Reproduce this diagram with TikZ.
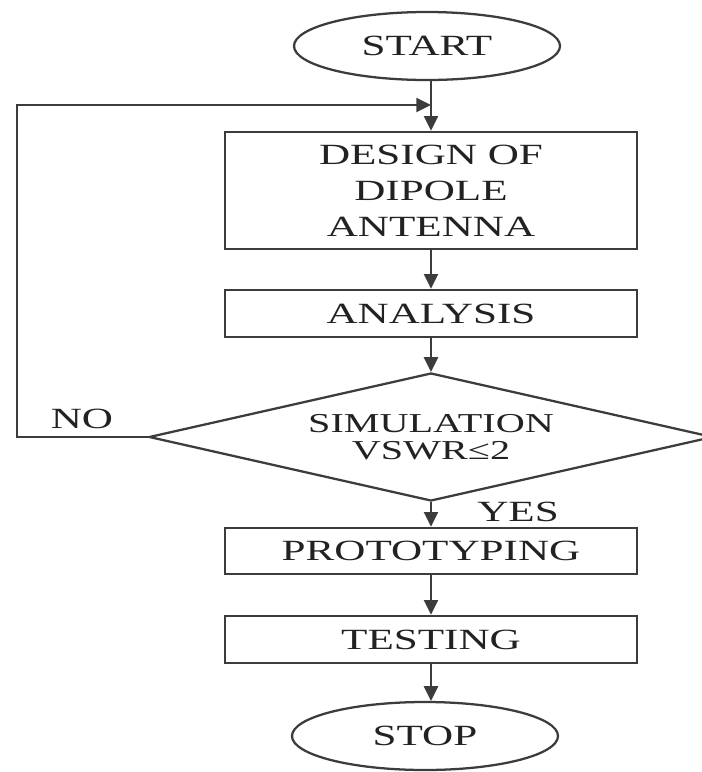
\documentclass[tikz,border=0pt]{standalone}
\usepackage{fontspec}
\setmainfont{Liberation Serif}[FakeStretch=1.47]
\usetikzlibrary{shapes.geometric,arrows.meta}
\definecolor{linecol}{HTML}{3C3C3C}
\definecolor{txtcol}{HTML}{222222}
\begin{document}
\begin{tikzpicture}[x=0.75pt,y=-0.75pt]
\tikzset{
  flowline/.style={line width=1.7pt, draw=linecol},
  arrowline/.style={flowline, -{Triangle[length=11pt,width=10.5pt]}},
  bigfont/.style={font={\fontsize{22}{27}\selectfont}, text=txtcol},
  procbox/.style={rectangle, draw=linecol, line width=1.9pt, minimum width=309pt,
    inner sep=0pt, align=center, bigfont},
  termnode/.style={ellipse, draw=linecol, line width=1.7pt, minimum width=199.5pt,
    minimum height=51pt, inner sep=0pt, bigfont},
  decnode/.style={diamond, aspect=4.4, draw=linecol, line width=1.7pt,
    minimum width=423pt, minimum height=96pt, inner sep=0pt, align=center,
    font={\fontsize{20.5}{20}\selectfont}, text=txtcol},
  lbl/.style={inner sep=0pt, bigfont}
}
\useasboundingbox (0,0) rectangle (702,772);
\fill[white] (0,0) rectangle (702,772);

\node[termnode] (start) at (427,46) {START};
\node[procbox, minimum height=87.75pt] (design) at (431,190.5) {DESIGN OF\\DIPOLE\\ANTENNA};
\node[procbox, minimum height=35.25pt] (analysis) at (431,313.5) {ANALYSIS};
\node[decnode] (dec) at (431,437) {SIMULATION\\VSWR≤2};
\node[procbox, minimum height=34.5pt] (proto) at (431,551) {PROTOTYPING};
\node[procbox, minimum height=35.25pt] (testing) at (431,639.5) {TESTING};
\node[termnode] (stop) at (425,736) {STOP};

\node[lbl] (nolbl) at (82,419) {NO};
\node[lbl] (yeslbl) at (518,512) {YES};

\coordinate (joint) at (431,105);
\coordinate (fbl) at (17,105);

\draw[arrowline] (start.south -| design.north) -- (design.north);
\draw[arrowline] (design.south) -- (analysis.north);
\draw[arrowline] (analysis.south) -- (dec.north);
\draw[arrowline] (dec.south) -- (proto.north);
\draw[arrowline] (proto.south) -- (testing.north);
\draw[arrowline] (testing.south) -- (testing.south |- stop.north);
\draw[arrowline] (dec.west) -| (fbl) -- (joint);
\end{tikzpicture}
\end{document}
